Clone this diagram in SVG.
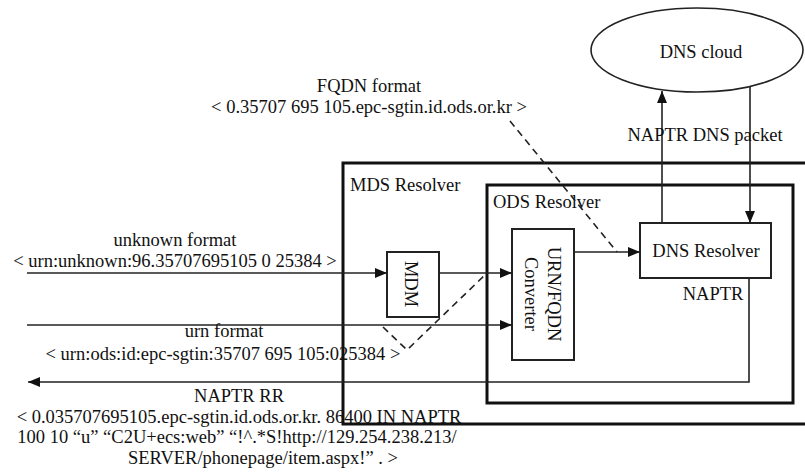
<svg xmlns="http://www.w3.org/2000/svg" width="805" height="472" viewBox="0 0 805 472">
<style>
text{font-family:"Liberation Serif","Times New Roman",serif;font-size:18.5px;fill:#111}
.c{text-anchor:middle}
.big{fill:none;stroke:#111;stroke-width:3}
.box{fill:#fff;stroke:#222;stroke-width:2}
.ln{fill:none;stroke:#222;stroke-width:1.6}
.ds{fill:none;stroke:#222;stroke-width:1.6;stroke-dasharray:7,5}
</style>
<defs>
<marker id="ah" viewBox="0 0 12 10" refX="12" refY="5" markerWidth="12" markerHeight="10" markerUnits="userSpaceOnUse" orient="auto">
<path d="M0,0 L12,5 L0,10 z" fill="#111"/>
</marker>
</defs>
<rect width="805" height="472" fill="#fff"/>

<g id="mds-resolver">
<path class="big" d="M808,163 H343 V424 H808"/>
<text x="350" y="191">MDS Resolver</text>
</g>
<g id="ods-resolver">
<rect class="big" x="487" y="185" width="306" height="218"/>
<text x="493" y="208">ODS Resolver</text>
</g>
<g id="dns-cloud">
<ellipse cx="697" cy="50" rx="106" ry="42" fill="#fff" stroke="#222" stroke-width="1.6"/>
<text class="c" x="701" y="58">DNS cloud</text>
</g>
<g id="mdm">
<rect class="box" x="387" y="252" width="52" height="65"/>
<text class="c" transform="translate(405,284) rotate(90)">MDM</text>
</g>
<g id="converter">
<rect class="box" x="512" y="229" width="62" height="131"/>
<text class="c" transform="translate(548,294) rotate(90)">URN/FQDN</text>
<text class="c" transform="translate(525,294) rotate(90)">Converter</text>
</g>
<g id="dns-resolver">
<rect class="box" x="640" y="223" width="131" height="55"/>
<text class="c" x="706" y="257">DNS Resolver</text>
</g>

<g id="connectors">
<line class="ln" x1="27" y1="273" x2="387" y2="273" marker-end="url(#ah)"/>
<line class="ln" x1="439" y1="273" x2="512" y2="273" marker-end="url(#ah)"/>
<line class="ln" x1="27" y1="325" x2="512" y2="325" marker-end="url(#ah)"/>
<line class="ln" x1="574" y1="252" x2="640" y2="252" marker-end="url(#ah)"/>
<line class="ln" x1="662" y1="223" x2="662" y2="91" marker-end="url(#ah)"/>
<line class="ln" x1="750" y1="86" x2="750" y2="223" marker-end="url(#ah)"/>
<polyline class="ln" points="749,278 749,382 28,382" marker-end="url(#ah)"/>
<line class="ds" x1="510" y1="121" x2="617" y2="252"/>
<polyline class="ds" points="383,327 407,350 487,273"/>
</g>

<g id="labels">
<text class="c" x="369" y="92">FQDN format</text>
<text class="c" x="369" y="113">&lt; 0.35707 695 105.epc-sgtin.id.ods.or.kr &gt;</text>
<text class="c" x="705" y="141">NAPTR DNS packet</text>
<text class="c" x="175" y="246">unknown format</text>
<text class="c" x="175" y="267">&lt; urn:unknown:96.35707695105 0 25384 &gt;</text>
<text class="c" x="224" y="337">urn format</text>
<text class="c" x="223" y="360">&lt; urn:ods:id:epc-sgtin:35707 695 105:025384 &gt;</text>
<text class="c" x="713" y="300">NAPTR</text>
<text class="c" x="239" y="402">NAPTR RR</text>
<text class="c" x="239" y="423">&lt; 0.035707695105.epc-sgtin.id.ods.or.kr. 86400 IN NAPTR</text>
<text class="c" x="237" y="443">100 10 “u” “C2U+ecs:web” “!^.*S!http://129.254.238.213/</text>
<text class="c" x="263" y="464">SERVER/phonepage/item.aspx!” . &gt;</text>
</g>
</svg>
